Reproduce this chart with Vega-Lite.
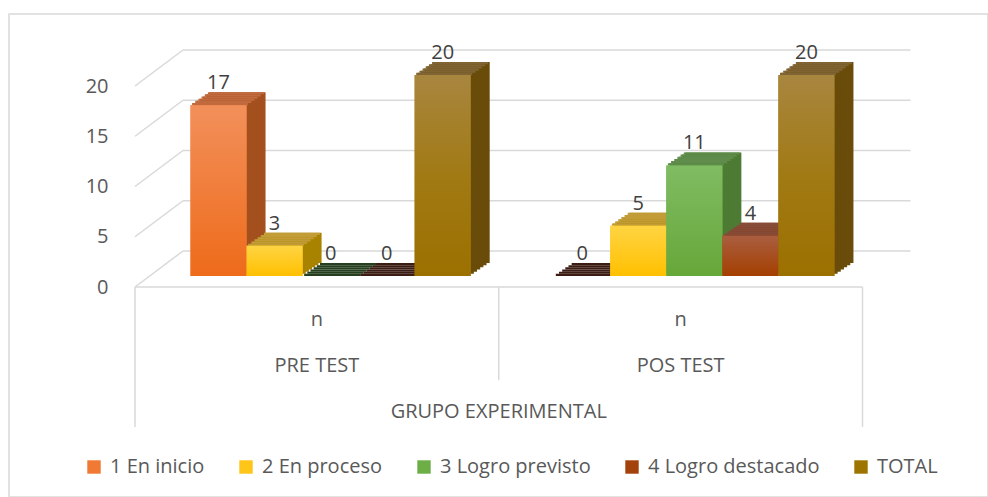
{
  "$schema": "https://vega.github.io/schema/vega-lite/v6.json",
  "width": 979,
  "height": 483,
  "autosize": {"type": "none"},
  "padding": {"left": 9, "top": 14, "right": 0, "bottom": 0},
  "background": "white",
  "config": {"view": {"stroke": "#D9D9D9", "strokeWidth": 1.5}, "font": "Open Sans"},
  "datasets": {
    "datos": [
      {"grupo": "PRE TEST", "nivel": "1 En inicio", "n": 17},
      {"grupo": "PRE TEST", "nivel": "2 En proceso", "n": 3},
      {"grupo": "PRE TEST", "nivel": "3 Logro previsto", "n": 0},
      {"grupo": "PRE TEST", "nivel": "4 Logro destacado", "n": 0},
      {"grupo": "PRE TEST", "nivel": "TOTAL", "n": 20},
      {"grupo": "POS TEST", "nivel": "1 En inicio", "n": 0},
      {"grupo": "POS TEST", "nivel": "2 En proceso", "n": 5},
      {"grupo": "POS TEST", "nivel": "3 Logro previsto", "n": 11},
      {"grupo": "POS TEST", "nivel": "4 Logro destacado", "n": 4},
      {"grupo": "POS TEST", "nivel": "TOTAL", "n": 20}
    ],
    "grupos": [{"grupo": "PRE TEST"}, {"grupo": "POS TEST"}],
    "escala": [{"v": 0}, {"v": 5}, {"v": 10}, {"v": 15}, {"v": 20}],
    "eje": [{"etiqueta": "GRUPO EXPERIMENTAL"}]
  },
  "resolve": {"scale": {"xOffset": "independent", "color": "independent"}},
  "layer": [
    {
      "data": {"name": "escala"},
      "mark": {"type": "rule", "color": "#D9D9D9", "strokeWidth": 1.5, "xOffset": 48, "x2Offset": 48, "yOffset": -25},
      "encoding": {
        "x": {"datum": "PRE TEST", "type": "nominal", "bandPosition": 0, "scale": {"domain": ["PRE TEST", "POS TEST"], "range": [126, 853.5], "paddingInner": 0, "paddingOuter": 0}, "axis": null},
        "x2": {"datum": "POS TEST", "bandPosition": 1},
        "y": {"field": "v", "type": "quantitative", "scale": {"domain": [0, 20], "range": [262, 61], "nice": false, "zero": false}, "axis": {"orient": "left", "offset": -126, "labelPadding": 27, "labelOffset": 11, "values": [0, 5, 10, 15, 20], "ticks": false, "domain": false, "grid": false, "title": null, "labelFont": "Open Sans", "labelFontSize": 20, "labelColor": "#595959", "labelFlush": false, "labelOverlap": false}}
      }
    },
    {
      "data": {"name": "escala"},
      "mark": {"type": "rule", "color": "#D9D9D9", "strokeWidth": 1.5, "xOffset": 0, "x2Offset": 48, "yOffset": 11, "y2Offset": -25},
      "encoding": {
        "x": {"datum": "PRE TEST", "type": "nominal", "bandPosition": 0},
        "x2": {"datum": "PRE TEST", "bandPosition": 0},
        "y": {"field": "v", "type": "quantitative"},
        "y2": {"field": "v"}
      }
    },
    {
      "data": {"name": "eje"},
      "mark": {"type": "rule", "color": "#D9D9D9", "strokeWidth": 1.5, "yOffset": 11},
      "encoding": {
        "x": {"datum": "PRE TEST", "type": "nominal", "bandPosition": 0},
        "x2": {"datum": "POS TEST", "bandPosition": 1},
        "y": {"datum": 0, "type": "quantitative"}
      }
    },
    {
      "data": {"name": "eje"},
      "mark": {"type": "rule", "color": "#D9D9D9", "strokeWidth": 1.5, "yOffset": 11, "y2Offset": 151},
      "encoding": {
        "x": {"datum": "PRE TEST", "type": "nominal", "bandPosition": 0},
        "y": {"datum": 0, "type": "quantitative"},
        "y2": {"datum": 0}
      }
    },
    {
      "data": {"name": "eje"},
      "mark": {"type": "rule", "color": "#D9D9D9", "strokeWidth": 1.5, "yOffset": 11, "y2Offset": 151},
      "encoding": {
        "x": {"datum": "POS TEST", "type": "nominal", "bandPosition": 1},
        "y": {"datum": 0, "type": "quantitative"},
        "y2": {"datum": 0}
      }
    },
    {
      "data": {"name": "eje"},
      "mark": {"type": "rule", "color": "#D9D9D9", "strokeWidth": 1.5, "yOffset": 11, "y2Offset": 104},
      "encoding": {
        "x": {"datum": "PRE TEST", "type": "nominal", "bandPosition": 1},
        "y": {"datum": 0, "type": "quantitative"},
        "y2": {"datum": 0}
      }
    },
    {
      "data": {"name": "grupos"},
      "mark": {"type": "text", "text": "n", "dy": 44, "baseline": "middle", "align": "center", "fontSize": 20, "color": "#595959"},
      "encoding": {
        "x": {"field": "grupo", "type": "nominal"},
        "y": {"datum": 0, "type": "quantitative"}
      }
    },
    {
      "data": {"name": "grupos"},
      "mark": {"type": "text", "dy": 90, "baseline": "middle", "align": "center", "fontSize": 20, "color": "#595959"},
      "encoding": {
        "x": {"field": "grupo", "type": "nominal"},
        "y": {"datum": 0, "type": "quantitative"},
        "text": {"field": "grupo"}
      }
    },
    {
      "data": {"name": "eje"},
      "mark": {"type": "text", "dy": 136, "baseline": "middle", "align": "center", "fontSize": 20, "color": "#595959"},
      "encoding": {
        "x": {"datum": "PRE TEST", "type": "nominal", "bandPosition": 1},
        "y": {"datum": 0, "type": "quantitative"},
        "text": {"field": "etiqueta"}
      }
    },
    {
      "data": {"name": "datos"},
      "mark": {"type": "bar", "yOffset": -13, "y2Offset": -13},
      "encoding": {
        "x": {"field": "grupo", "type": "nominal"},
        "xOffset": {"field": "nivel", "type": "nominal", "scale": {"domain": ["1 En inicio", "2 En proceso", "3 Logro previsto", "4 Logro destacado", "TOTAL"], "paddingInner": 0, "paddingOuter": 0.7455, "align": 0.8917}},
        "y": {"field": "n", "type": "quantitative", "stack": null},
        "y2": {"datum": 0},
        "color": {"field": "nivel", "type": "nominal", "scale": {"domain": ["1 En inicio", "2 En proceso", "3 Logro previsto", "4 Logro destacado", "TOTAL"], "range": ["#A3501E", "#A88300", "#4D7B33", "#7C3411", "#6A4C0A"]}, "legend": null}
      }
    },
    {
      "data": {"name": "datos"},
      "mark": {"type": "bar", "yOffset": -10.83, "y2Offset": -10.83},
      "encoding": {
        "x": {"field": "grupo", "type": "nominal"},
        "xOffset": {"field": "nivel", "type": "nominal", "scale": {"domain": ["1 En inicio", "2 En proceso", "3 Logro previsto", "4 Logro destacado", "TOTAL"], "paddingInner": 0, "paddingOuter": 0.7455, "align": 0.8538}},
        "y": {"field": "n", "type": "quantitative", "stack": null},
        "y2": {"datum": 0},
        "color": {"field": "nivel", "type": "nominal", "scale": {"domain": ["1 En inicio", "2 En proceso", "3 Logro previsto", "4 Logro destacado", "TOTAL"], "range": ["#A3501E", "#A88300", "#4D7B33", "#7C3411", "#6A4C0A"]}, "legend": null}
      }
    },
    {
      "data": {"name": "datos"},
      "mark": {"type": "bar", "yOffset": -8.67, "y2Offset": -8.67},
      "encoding": {
        "x": {"field": "grupo", "type": "nominal"},
        "xOffset": {"field": "nivel", "type": "nominal", "scale": {"domain": ["1 En inicio", "2 En proceso", "3 Logro previsto", "4 Logro destacado", "TOTAL"], "paddingInner": 0, "paddingOuter": 0.7455, "align": 0.8159}},
        "y": {"field": "n", "type": "quantitative", "stack": null},
        "y2": {"datum": 0},
        "color": {"field": "nivel", "type": "nominal", "scale": {"domain": ["1 En inicio", "2 En proceso", "3 Logro previsto", "4 Logro destacado", "TOTAL"], "range": ["#A3501E", "#A88300", "#4D7B33", "#7C3411", "#6A4C0A"]}, "legend": null}
      }
    },
    {
      "data": {"name": "datos"},
      "mark": {"type": "bar", "yOffset": -6.5, "y2Offset": -6.5},
      "encoding": {
        "x": {"field": "grupo", "type": "nominal"},
        "xOffset": {"field": "nivel", "type": "nominal", "scale": {"domain": ["1 En inicio", "2 En proceso", "3 Logro previsto", "4 Logro destacado", "TOTAL"], "paddingInner": 0, "paddingOuter": 0.7455, "align": 0.778}},
        "y": {"field": "n", "type": "quantitative", "stack": null},
        "y2": {"datum": 0},
        "color": {"field": "nivel", "type": "nominal", "scale": {"domain": ["1 En inicio", "2 En proceso", "3 Logro previsto", "4 Logro destacado", "TOTAL"], "range": ["#A3501E", "#A88300", "#4D7B33", "#7C3411", "#6A4C0A"]}, "legend": null}
      }
    },
    {
      "data": {"name": "datos"},
      "mark": {"type": "bar", "yOffset": -4.33, "y2Offset": -4.33},
      "encoding": {
        "x": {"field": "grupo", "type": "nominal"},
        "xOffset": {"field": "nivel", "type": "nominal", "scale": {"domain": ["1 En inicio", "2 En proceso", "3 Logro previsto", "4 Logro destacado", "TOTAL"], "paddingInner": 0, "paddingOuter": 0.7455, "align": 0.7401}},
        "y": {"field": "n", "type": "quantitative", "stack": null},
        "y2": {"datum": 0},
        "color": {"field": "nivel", "type": "nominal", "scale": {"domain": ["1 En inicio", "2 En proceso", "3 Logro previsto", "4 Logro destacado", "TOTAL"], "range": ["#A3501E", "#A88300", "#4D7B33", "#7C3411", "#6A4C0A"]}, "legend": null}
      }
    },
    {
      "data": {"name": "datos"},
      "mark": {"type": "bar", "yOffset": -2.17, "y2Offset": -2.17},
      "encoding": {
        "x": {"field": "grupo", "type": "nominal"},
        "xOffset": {"field": "nivel", "type": "nominal", "scale": {"domain": ["1 En inicio", "2 En proceso", "3 Logro previsto", "4 Logro destacado", "TOTAL"], "paddingInner": 0, "paddingOuter": 0.7455, "align": 0.7022}},
        "y": {"field": "n", "type": "quantitative", "stack": null},
        "y2": {"datum": 0},
        "color": {"field": "nivel", "type": "nominal", "scale": {"domain": ["1 En inicio", "2 En proceso", "3 Logro previsto", "4 Logro destacado", "TOTAL"], "range": ["#A3501E", "#A88300", "#4D7B33", "#7C3411", "#6A4C0A"]}, "legend": null}
      }
    },
    {
      "data": {"name": "datos"},
      "mark": {"type": "bar", "yOffset": -13, "y2Offset": -10.83},
      "encoding": {
        "x": {"field": "grupo", "type": "nominal"},
        "xOffset": {"field": "nivel", "type": "nominal", "scale": {"domain": ["1 En inicio", "2 En proceso", "3 Logro previsto", "4 Logro destacado", "TOTAL"], "paddingInner": 0, "paddingOuter": 0.7455, "align": 0.8727}},
        "y": {"field": "n", "type": "quantitative"},
        "y2": {"field": "n"},
        "color": {"condition": [{"test": "datum.n === 0 && datum.nivel === '3 Logro previsto'", "value": "#263F1F"}, {"test": "datum.n === 0", "value": "#3B1D14"}], "field": "nivel", "type": "nominal", "scale": {"domain": ["1 En inicio", "2 En proceso", "3 Logro previsto", "4 Logro destacado", "TOTAL"], "range": ["#C06A3D", "#C29C36", "#5F8C4B", "#874C38", "#806434"]}, "legend": null}
      }
    },
    {
      "data": {"name": "datos"},
      "mark": {"type": "bar", "yOffset": -10.83, "y2Offset": -8.67},
      "encoding": {
        "x": {"field": "grupo", "type": "nominal"},
        "xOffset": {"field": "nivel", "type": "nominal", "scale": {"domain": ["1 En inicio", "2 En proceso", "3 Logro previsto", "4 Logro destacado", "TOTAL"], "paddingInner": 0, "paddingOuter": 0.7455, "align": 0.8348}},
        "y": {"field": "n", "type": "quantitative"},
        "y2": {"field": "n"},
        "color": {"condition": [{"test": "datum.n === 0 && datum.nivel === '3 Logro previsto'", "value": "#263F1F"}, {"test": "datum.n === 0", "value": "#3B1D14"}], "field": "nivel", "type": "nominal", "scale": {"domain": ["1 En inicio", "2 En proceso", "3 Logro previsto", "4 Logro destacado", "TOTAL"], "range": ["#C06A3D", "#C29C36", "#5F8C4B", "#874C38", "#806434"]}, "legend": null}
      }
    },
    {
      "data": {"name": "datos"},
      "mark": {"type": "bar", "yOffset": -8.67, "y2Offset": -6.5},
      "encoding": {
        "x": {"field": "grupo", "type": "nominal"},
        "xOffset": {"field": "nivel", "type": "nominal", "scale": {"domain": ["1 En inicio", "2 En proceso", "3 Logro previsto", "4 Logro destacado", "TOTAL"], "paddingInner": 0, "paddingOuter": 0.7455, "align": 0.7969}},
        "y": {"field": "n", "type": "quantitative"},
        "y2": {"field": "n"},
        "color": {"condition": [{"test": "datum.n === 0 && datum.nivel === '3 Logro previsto'", "value": "#263F1F"}, {"test": "datum.n === 0", "value": "#3B1D14"}], "field": "nivel", "type": "nominal", "scale": {"domain": ["1 En inicio", "2 En proceso", "3 Logro previsto", "4 Logro destacado", "TOTAL"], "range": ["#C06A3D", "#C29C36", "#5F8C4B", "#874C38", "#806434"]}, "legend": null}
      }
    },
    {
      "data": {"name": "datos"},
      "mark": {"type": "bar", "yOffset": -6.5, "y2Offset": -4.33},
      "encoding": {
        "x": {"field": "grupo", "type": "nominal"},
        "xOffset": {"field": "nivel", "type": "nominal", "scale": {"domain": ["1 En inicio", "2 En proceso", "3 Logro previsto", "4 Logro destacado", "TOTAL"], "paddingInner": 0, "paddingOuter": 0.7455, "align": 0.759}},
        "y": {"field": "n", "type": "quantitative"},
        "y2": {"field": "n"},
        "color": {"condition": [{"test": "datum.n === 0 && datum.nivel === '3 Logro previsto'", "value": "#263F1F"}, {"test": "datum.n === 0", "value": "#3B1D14"}], "field": "nivel", "type": "nominal", "scale": {"domain": ["1 En inicio", "2 En proceso", "3 Logro previsto", "4 Logro destacado", "TOTAL"], "range": ["#C06A3D", "#C29C36", "#5F8C4B", "#874C38", "#806434"]}, "legend": null}
      }
    },
    {
      "data": {"name": "datos"},
      "mark": {"type": "bar", "yOffset": -4.33, "y2Offset": -2.17},
      "encoding": {
        "x": {"field": "grupo", "type": "nominal"},
        "xOffset": {"field": "nivel", "type": "nominal", "scale": {"domain": ["1 En inicio", "2 En proceso", "3 Logro previsto", "4 Logro destacado", "TOTAL"], "paddingInner": 0, "paddingOuter": 0.7455, "align": 0.7211}},
        "y": {"field": "n", "type": "quantitative"},
        "y2": {"field": "n"},
        "color": {"condition": [{"test": "datum.n === 0 && datum.nivel === '3 Logro previsto'", "value": "#263F1F"}, {"test": "datum.n === 0", "value": "#3B1D14"}], "field": "nivel", "type": "nominal", "scale": {"domain": ["1 En inicio", "2 En proceso", "3 Logro previsto", "4 Logro destacado", "TOTAL"], "range": ["#C06A3D", "#C29C36", "#5F8C4B", "#874C38", "#806434"]}, "legend": null}
      }
    },
    {
      "data": {"name": "datos"},
      "mark": {"type": "bar", "yOffset": -2.17, "y2Offset": 0},
      "encoding": {
        "x": {"field": "grupo", "type": "nominal"},
        "xOffset": {"field": "nivel", "type": "nominal", "scale": {"domain": ["1 En inicio", "2 En proceso", "3 Logro previsto", "4 Logro destacado", "TOTAL"], "paddingInner": 0, "paddingOuter": 0.7455, "align": 0.6832}},
        "y": {"field": "n", "type": "quantitative"},
        "y2": {"field": "n"},
        "color": {"condition": [{"test": "datum.n === 0 && datum.nivel === '3 Logro previsto'", "value": "#263F1F"}, {"test": "datum.n === 0", "value": "#3B1D14"}], "field": "nivel", "type": "nominal", "scale": {"domain": ["1 En inicio", "2 En proceso", "3 Logro previsto", "4 Logro destacado", "TOTAL"], "range": ["#C06A3D", "#C29C36", "#5F8C4B", "#874C38", "#806434"]}, "legend": null}
      }
    },
    {
      "data": {"name": "datos"},
      "mark": {"type": "bar"},
      "encoding": {
        "x": {"field": "grupo", "type": "nominal"},
        "xOffset": {"field": "nivel", "type": "nominal", "scale": {"domain": ["1 En inicio", "2 En proceso", "3 Logro previsto", "4 Logro destacado", "TOTAL"], "paddingInner": 0, "paddingOuter": 0.7455, "align": 0.6643}},
        "y": {"field": "n", "type": "quantitative", "stack": null},
        "y2": {"datum": 0},
        "color": {"field": "nivel", "type": "nominal", "scale": {"domain": ["1 En inicio", "2 En proceso", "3 Logro previsto", "4 Logro destacado", "TOTAL"], "range": ["#F07A33", "#FFC619", "#6EAE46", "#A4420C", "#9E7400"]}, "legend": {"orient": "none", "legendX": 75, "legendY": 443, "direction": "horizontal", "title": null, "symbolType": "square", "symbolSize": 180, "symbolStrokeWidth": 0, "labelFont": "Open Sans", "labelFontSize": 20, "labelColor": "#595959", "labelOffset": 6, "labelLimit": 0, "columnPadding": 31, "padding": 0}}
      }
    },
    {
      "data": {"name": "datos"},
      "transform": [{"filter": "datum.nivel === '1 En inicio'"}],
      "mark": {"type": "bar", "color": {"gradient": "linear", "x1": 0, "y1": 0, "x2": 0, "y2": 1, "stops": [{"offset": 0, "color": "#F2905B"}, {"offset": 1, "color": "#EE6B1A"}]}},
      "encoding": {
        "x": {"field": "grupo", "type": "nominal"},
        "xOffset": {"field": "nivel", "type": "nominal", "scale": {"domain": ["1 En inicio", "2 En proceso", "3 Logro previsto", "4 Logro destacado", "TOTAL"], "paddingInner": 0, "paddingOuter": 0.7455, "align": 0.6643}},
        "y": {"field": "n", "type": "quantitative", "stack": null},
        "y2": {"datum": 0}
      }
    },
    {
      "data": {"name": "datos"},
      "transform": [{"filter": "datum.nivel === '2 En proceso'"}],
      "mark": {"type": "bar", "color": {"gradient": "linear", "x1": 0, "y1": 0, "x2": 0, "y2": 1, "stops": [{"offset": 0, "color": "#FFD443"}, {"offset": 1, "color": "#FFC000"}]}},
      "encoding": {
        "x": {"field": "grupo", "type": "nominal"},
        "xOffset": {"field": "nivel", "type": "nominal", "scale": {"domain": ["1 En inicio", "2 En proceso", "3 Logro previsto", "4 Logro destacado", "TOTAL"], "paddingInner": 0, "paddingOuter": 0.7455, "align": 0.6643}},
        "y": {"field": "n", "type": "quantitative", "stack": null},
        "y2": {"datum": 0}
      }
    },
    {
      "data": {"name": "datos"},
      "transform": [{"filter": "datum.nivel === '3 Logro previsto'"}],
      "mark": {"type": "bar", "color": {"gradient": "linear", "x1": 0, "y1": 0, "x2": 0, "y2": 1, "stops": [{"offset": 0, "color": "#80BC63"}, {"offset": 1, "color": "#66A739"}]}},
      "encoding": {
        "x": {"field": "grupo", "type": "nominal"},
        "xOffset": {"field": "nivel", "type": "nominal", "scale": {"domain": ["1 En inicio", "2 En proceso", "3 Logro previsto", "4 Logro destacado", "TOTAL"], "paddingInner": 0, "paddingOuter": 0.7455, "align": 0.6643}},
        "y": {"field": "n", "type": "quantitative", "stack": null},
        "y2": {"datum": 0}
      }
    },
    {
      "data": {"name": "datos"},
      "transform": [{"filter": "datum.nivel === '4 Logro destacado'"}],
      "mark": {"type": "bar", "color": {"gradient": "linear", "x1": 0, "y1": 0, "x2": 0, "y2": 1, "stops": [{"offset": 0, "color": "#AA5E40"}, {"offset": 1, "color": "#A43F00"}]}},
      "encoding": {
        "x": {"field": "grupo", "type": "nominal"},
        "xOffset": {"field": "nivel", "type": "nominal", "scale": {"domain": ["1 En inicio", "2 En proceso", "3 Logro previsto", "4 Logro destacado", "TOTAL"], "paddingInner": 0, "paddingOuter": 0.7455, "align": 0.6643}},
        "y": {"field": "n", "type": "quantitative", "stack": null},
        "y2": {"datum": 0}
      }
    },
    {
      "data": {"name": "datos"},
      "transform": [{"filter": "datum.nivel === 'TOTAL'"}],
      "mark": {"type": "bar", "color": {"gradient": "linear", "x1": 0, "y1": 0, "x2": 0, "y2": 1, "stops": [{"offset": 0, "color": "#A8863F"}, {"offset": 0.5, "color": "#A17A14"}, {"offset": 1, "color": "#9C7000"}]}},
      "encoding": {
        "x": {"field": "grupo", "type": "nominal"},
        "xOffset": {"field": "nivel", "type": "nominal", "scale": {"domain": ["1 En inicio", "2 En proceso", "3 Logro previsto", "4 Logro destacado", "TOTAL"], "paddingInner": 0, "paddingOuter": 0.7455, "align": 0.6643}},
        "y": {"field": "n", "type": "quantitative", "stack": null},
        "y2": {"datum": 0}
      }
    },
    {
      "data": {"name": "datos"},
      "mark": {"type": "text", "dy": -16, "baseline": "alphabetic", "align": "center", "fontSize": 20, "color": "#404040"},
      "encoding": {
        "x": {"field": "grupo", "type": "nominal"},
        "xOffset": {"field": "nivel", "type": "nominal", "bandPosition": 0.5, "scale": {"type": "band", "domain": ["1 En inicio", "2 En proceso", "3 Logro previsto", "4 Logro destacado", "TOTAL"], "paddingInner": 0, "paddingOuter": 0.7455, "align": 0.6643}},
        "y": {"field": "n", "type": "quantitative", "stack": null},
        "text": {"field": "n", "type": "quantitative"}
      }
    }
  ]
}
